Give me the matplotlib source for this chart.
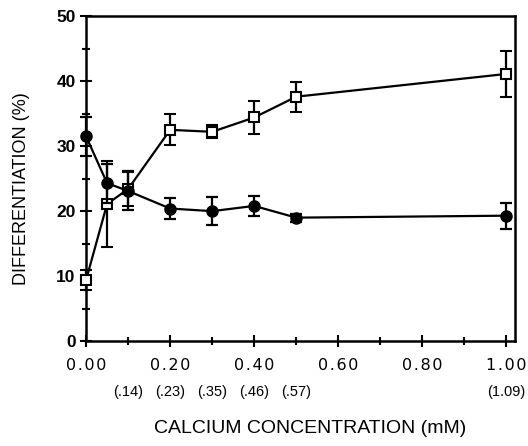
import matplotlib
matplotlib.use('Agg')
import matplotlib.pyplot as plt
import matplotlib.transforms as mtransforms

# calcium concentration (mM)
calcium = [0.0, 0.05, 0.1, 0.2, 0.3, 0.4, 0.5, 1.0]

# closed circles
circleVals = [31.5, 24.3, 23.1, 20.4, 20.0, 20.8, 19.0, 19.3]
circleErr = [3.0, 3.0, 3.0, 1.6, 2.2, 1.6, 0.6, 2.0]

# open squares
squareVals = [9.4, 21.1, 23.4, 32.5, 32.2, 34.4, 37.6, 41.1]
squareErr = [1.6, 6.6, 2.6, 2.4, 1.0, 2.5, 2.3, 3.6]

# tick labels
xTicks = [0.0, 0.2, 0.4, 0.6, 0.8, 1.0]
xTickLabels = ['0.00', '0.20', '0.40', '0.60', '0.80', '1.00']

# second row of x labels
subPositions = [0.1, 0.2, 0.3, 0.4, 0.5, 1.0]
subLabels = ['(.14)', '(.23)', '(.35)', '(.46)', '(.57)', '(1.09)']

plt.rcParams['font.family'] = ['Liberation Sans', 'DejaVu Sans']

fig = plt.figure(figsize=(5.28, 4.46), dpi=100)
ax = fig.add_axes([0.163, 0.235, 0.812, 0.729])

sq = ax.errorbar(calcium, squareVals, yerr=squareErr, color='k', lw=1.6,
                 marker='s', markersize=7, markerfacecolor='white',
                 markeredgecolor='k', markeredgewidth=1.5,
                 capsize=4, capthick=1.6, elinewidth=1.6, zorder=3)
ci = ax.errorbar(calcium, circleVals, yerr=circleErr, color='k', lw=1.6,
                 marker='o', markersize=8, markerfacecolor='k',
                 markeredgecolor='k', capsize=4, capthick=1.6,
                 elinewidth=1.6, zorder=4)
for container in (sq, ci):
    for child in container.get_children():
        child.set_clip_on(False)

ax.set_xlim(0, 1.02)
ax.set_ylim(0, 50)
ax.set_xticks(xTicks)
# hair spaces between the digits, the original face is wide
spaced = ['\u200a'.join(s) for s in xTickLabels]
ax.set_xticklabels(spaced, family='DejaVu Sans', fontsize=11.5)
ax.set_xticks([0.1, 0.3, 0.5, 0.7, 0.9], minor=True)
ax.set_yticks([0, 10, 20, 30, 40, 50])
ax.set_yticks([5, 15, 25, 35, 45], minor=True)
for lab in ax.get_yticklabels():
    lab.set_fontsize(12.5)
    lab.set_fontweight('bold')

ax.tick_params(which='both', direction='inout', width=1.5, length=8)
ax.tick_params(which='minor', length=6)
ax.tick_params(axis='x', pad=8)
for sp in ax.spines.values():
    sp.set_linewidth(1.8)

trans = mtransforms.blended_transform_factory(ax.transData, fig.transFigure)
for pos, lab in zip(subPositions, subLabels):
    ax.text(pos, 0.12, lab, transform=trans, ha='center', va='center',
            fontsize=10.5)

fig.text(0.587, 0.04, 'CALCIUM CONCENTRATION (mM)', ha='center',
         va='center', fontsize=14)
fig.text(0.04, 0.576, 'DIFFERENTIATION (%)', rotation=90, ha='center',
         va='center', fontsize=13)

fig.savefig('out.png', dpi=100)
